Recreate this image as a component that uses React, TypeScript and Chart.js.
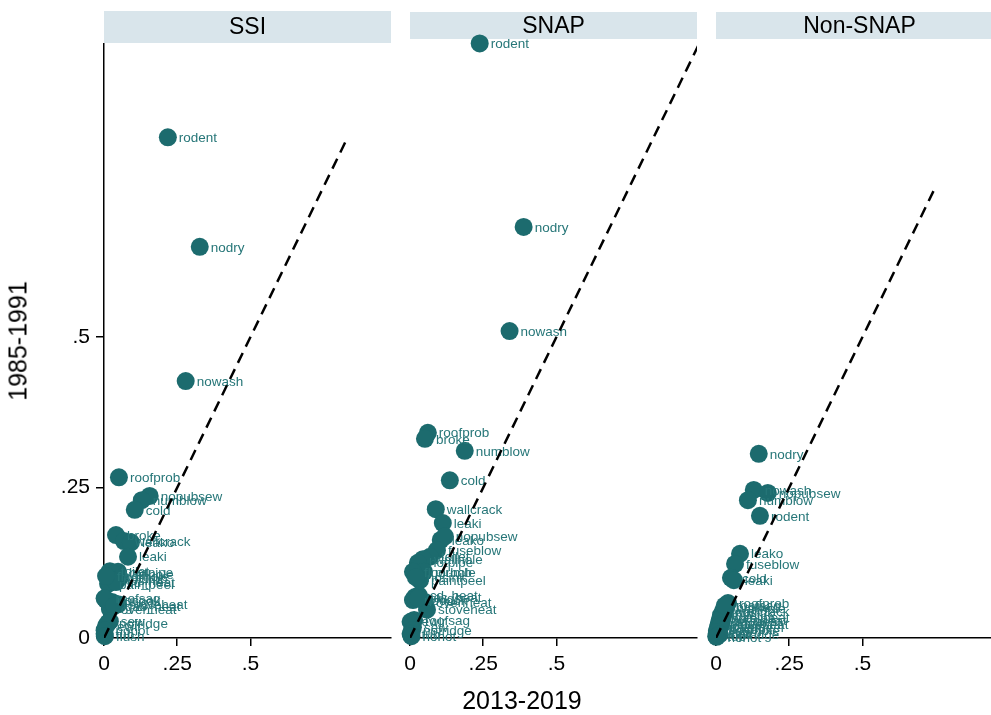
import React, { useEffect, useRef } from 'react';
import { Chart, registerables } from 'chart.js';

Chart.register(...registerables);

// ---------- data ----------
const panelTitles = ['SSI', 'SNAP', 'Non-SNAP'];
const tickValues = [0, 0.25, 0.5];
const tickLabels = ['0', '.25', '.5'];
const xAxisTitle = '2013-2019';
const yAxisTitle = '1985-1991';

// SSI
const ssiNames = ['rodent', 'nodry', 'nowash', 'roofprob', 'nopubsew', 'numblow', 'cold', 'broke', 'wallcrack', 'leako', 'leaki',
  'toilet', 'hotpipe', 'wallhole', 'plumb', 'nosink', 'paintpeel', 'cd_heat', 'floorhole',
  'nocook', 'plugs', 'stoveheat', 'ovenheat', 'roofsag', 'gas_heat', 'sew', 'ewir', 'nofridge', 'tub', 'nohot', 'flush'];
const ssiX = [0.218, 0.327, 0.279, 0.051, 0.156, 0.129, 0.105, 0.041, 0.068, 0.092, 0.082,
  0.020, 0.048, 0.034, 0.054, 0.027, 0.014, 0.041, 0.007,
  0.007, 0.027, 0.048, 0.020, 0.002, 0.034, 0.020, 0.007, 0.014, 0.002, 0.002, 0.003];
const ssiY = [0.832, 0.650, 0.427, 0.267, 0.236, 0.229, 0.213, 0.171, 0.161, 0.159, 0.135,
  0.111, 0.110, 0.106, 0.100, 0.096, 0.090, 0.093, 0.103,
  0.063, 0.060, 0.056, 0.048, 0.066, 0.053, 0.028, 0.020, 0.025, 0.007, 0.013, 0.003];

// SNAP
const snapNames = ['rodent', 'nodry', 'nowash', 'roofprob', 'broke', 'numblow', 'cold', 'wallcrack', 'leaki', 'leako', 'nopubsew',
  'fuseblow', 'toilet', 'wallhole', 'hotpipe', 'plumb', 'floorhole', 'paintpeel', 'nosink', 'cd_heat',
  'gas_heat', 'ovenheat', 'stoveheat', 'nocook', 'plugs', 'roofsag', 'sew', 'ewir', 'nofridge', 'tub', 'nohot'];
const snapX = [0.238, 0.388, 0.340, 0.061, 0.051, 0.187, 0.136, 0.088, 0.112, 0.105, 0.119,
  0.092, 0.068, 0.044, 0.027, 0.048, 0.010, 0.034, 0.020, 0.030,
  0.017, 0.051, 0.058, 0.010, 0.027, 0.014, 0.010, 0.002, 0.007, 0.002, 0.005];
const snapY = [0.988, 0.683, 0.510, 0.341, 0.331, 0.311, 0.262, 0.214, 0.191, 0.163, 0.169,
  0.146, 0.135, 0.131, 0.125, 0.110, 0.110, 0.096, 0.101, 0.071,
  0.068, 0.060, 0.047, 0.063, 0.066, 0.030, 0.018, 0.027, 0.013, 0.007, 0.003];

// Non-SNAP
const nonNames = ['nodry', 'nowash', 'nopubsew', 'numblow', 'rodent', 'leako', 'fuseblow', 'cold', 'leaki',
  'roofprob', 'broke', 'wallcrack', 'toilet', 'hotpipe', 'plumb', 'paintpeel', 'floorhole', 'tub', 'cd_heat',
  'wallhole', 'nosink', 'gas_heat', 'ovenheat', 'stoveheat', 'nocook', 'plugs', 'sew', 'ewir', 'nofridge', 'nohot', 'roofsag'];
const nonX = [0.146, 0.129, 0.177, 0.109, 0.150, 0.082, 0.065, 0.051, 0.061,
  0.041, 0.031, 0.024, 0.017, 0.014, 0.010, 0.007, 0.003, 0.001, 0.020,
  0.034, 0.027, 0.024, 0.014, 0.010, 0.007, 0.017, 0.005, 0.003, 0.012, 0.002, 0.030];
const nonY = [0.306, 0.246, 0.241, 0.229, 0.203, 0.140, 0.123, 0.100, 0.096,
  0.058, 0.051, 0.045, 0.038, 0.032, 0.025, 0.018, 0.012, 0.003, 0.027,
  0.050, 0.042, 0.035, 0.030, 0.022, 0.015, 0.020, 0.008, 0.010, 0.006, 0.002, 0.054];

// end of 45-degree reference line per panel
const diagEnd = [0.824, 1.05, 0.752];

// ---------- styling ----------
const FONT = '"Liberation Sans", Arial, Helvetica, sans-serif';
const MARKER = '#1c6b6e';
const LABEL = '#267678';
const STRIP = '#d9e5eb';

const panelNames = [ssiNames, snapNames, nonNames];
const panelX = [ssiX, snapX, nonX];
const panelY = [ssiY, snapY, nonY];
const stripTop = [11, 12, 12];
const stripBottom = [43, 39, 39];

const panelPlugin = {
  id: 'panelDecor',
  beforeDatasetsDraw(chart: any, _args: any, opts: any) {
    const { ctx, chartArea } = chart;
    ctx.save();
    ctx.fillStyle = STRIP;
    ctx.fillRect(chartArea.left, opts.top, chartArea.right - chartArea.left, opts.bottom - opts.top);
    ctx.fillStyle = '#000';
    ctx.font = `23px ${FONT}`;
    ctx.textAlign = 'center';
    ctx.textBaseline = 'middle';
    ctx.fillText(opts.text, (chartArea.left + chartArea.right) / 2, (opts.top + opts.bottom) / 2 + 1);
    ctx.restore();
  },
  afterDatasetDraw(chart: any, args: any, opts: any) {
    if (args.index !== 1) return;
    const { ctx } = chart;
    const meta = chart.getDatasetMeta(1);
    const names: string[] = opts.names;
    ctx.save();
    ctx.fillStyle = LABEL;
    ctx.font = `13.5px ${FONT}`;
    ctx.textAlign = 'left';
    ctx.textBaseline = 'middle';
    meta.data.forEach((pt: any, i: number) => {
      ctx.fillText(names[i], pt.x + 11, pt.y + 1);
    });
    ctx.restore();
  },
};

function makeScaleCommon() {
  return {
    type: 'linear' as const,
    min: 0,
    afterBuildTicks: (s: any) => {
      s.ticks = tickValues.map((v) => ({ value: v }));
    },
    grid: { drawOnChartArea: false, tickLength: 8, color: '#000', lineWidth: 1.5 },
    border: { color: '#000', width: 1.5 },
  };
}

function tickText(v: any) {
  const k = tickValues.indexOf(Number(v));
  return k >= 0 ? tickLabels[k] : '';
}

function Panel({ idx, left, width }: { idx: number; left: number; width: number }) {
  const ref = useRef<HTMLCanvasElement | null>(null);
  useEffect(() => {
    if (!ref.current) return;
    const names = panelNames[idx];
    const xs = panelX[idx];
    const ys = panelY[idx];
    const pts = names.map((_, i) => ({ x: xs[i], y: ys[i] }));
    const d = diagEnd[idx];
    const first = idx === 0;
    const chart = new Chart(ref.current, {
      type: 'scatter',
      data: {
        datasets: [
          {
            type: 'line',
            data: [{ x: 0, y: 0 }, { x: d, y: d }],
            borderColor: '#000',
            borderWidth: 2.5,
            borderDash: [11, 7],
            pointRadius: 0,
            fill: false,
            showLine: true,
          } as any,
          {
            data: pts,
            backgroundColor: MARKER,
            borderWidth: 0,
            pointRadius: 9,
            pointHoverRadius: 9,
            clip: false,
          } as any,
        ],
      },
      options: {
        animation: false,
        responsive: false,
        events: [],
        layout: { padding: { top: 44, left: first ? 0 : 20, right: 8, bottom: 0 } },
        plugins: {
          legend: { display: false },
          tooltip: { enabled: false },
          panelDecor: {
            text: panelTitles[idx],
            top: stripTop[idx],
            bottom: stripBottom[idx],
            names,
          },
        } as any,
        scales: {
          x: {
            ...makeScaleCommon(),
            max: 0.98,
            ticks: {
              callback: tickText,
              font: { size: 21, family: FONT },
              color: '#000',
              padding: 6,
              maxRotation: 0,
              autoSkip: false,
            },
            afterFit: (s: any) => {
              s.height = 715 - 638;
            },
          } as any,
          y: {
            ...makeScaleCommon(),
            max: 0.987,
            display: first,
            ticks: {
              callback: tickText,
              font: { size: 21, family: FONT },
              color: '#000',
              padding: 6,
              autoSkip: false,
            },
            afterFit: (s: any) => {
              s.width = first ? 104 : 0;
            },
          } as any,
        },
      },
      plugins: [panelPlugin],
    });
    return () => chart.destroy();
  }, [idx, width]);
  return (
    <canvas
      ref={ref}
      width={width}
      height={715}
      style={{ position: 'absolute', left, top: 0, width, height: 715 }}
    />
  );
}

export default function App() {
  return (
    <div
      style={{
        position: 'fixed',
        left: 0,
        top: 0,
        width: 991,
        height: 715,
        overflow: 'hidden',
        background: '#fff',
        fontFamily: FONT,
      }}
    >
      <Panel idx={0} left={0} width={400} />
      <Panel idx={1} left={390} width={316} />
      <Panel idx={2} left={696} width={316} />
      <div
        style={{
          position: 'absolute',
          left: 18,
          top: 341,
          transform: 'translate(-50%, -50%) rotate(-90deg)',
          fontSize: 25,
          color: '#000',
          whiteSpace: 'nowrap',
          lineHeight: 1,
        }}
      >
        {yAxisTitle}
      </div>
      <div
        style={{
          position: 'absolute',
          left: 522,
          top: 700,
          transform: 'translate(-50%, -50%)',
          fontSize: 25,
          color: '#000',
          whiteSpace: 'nowrap',
          lineHeight: 1,
        }}
      >
        {xAxisTitle}
      </div>
    </div>
  );
}
